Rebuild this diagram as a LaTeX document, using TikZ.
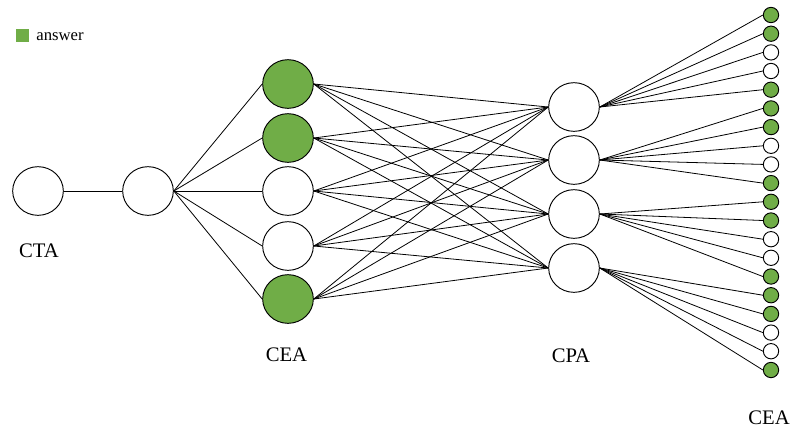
\documentclass[tikz,border=0pt]{standalone}
\usepackage{fontspec}
\setmainfont{Liberation Serif}
\usepackage{xcolor}
\usepackage{tikz}
\usetikzlibrary{shapes}
\definecolor{ansgreen}{RGB}{112,173,71}
\tikzset{ell/.style={ellipse,draw,line width=0.7pt,minimum width=38pt,minimum height=36.5pt,inner sep=0pt}}
\tikzset{dot/.style={circle,draw,line width=0.7pt,minimum size=11.5pt,inner sep=0pt}}
\tikzset{ans/.style={fill=ansgreen}}
\tikzset{lab/.style={inner sep=0pt,font=\fontsize{15.5}{18}\selectfont}}

\begin{document}
\begin{tikzpicture}[x=0.75pt,y=-0.75pt,line width=0.6pt]
    \useasboundingbox (0,0) rectangle (793,430);

    % legend
    \node[fill=ansgreen,minimum size=9.75pt,inner sep=0pt] (key) at (22.5,35.5) {};
    \node[anchor=west,inner sep=0pt,font=\fontsize{12.5}{14}\selectfont] (keytext) at (36,37) {answer};

    \node[ell] (cta) at (38,191) {};
    \node[ell] (hub) at (148,191) {};

    \node[ell,ans] (cea1) at (288,84) {};
    \node[ell,ans] (cea2) at (288,138) {};
    \node[ell] (cea3) at (288,191) {};
    \node[ell] (cea4) at (288,246) {};
    \node[ell,ans] (cea5) at (288,299) {};

    \node[ell] (cpa1) at (574,107) {};
    \node[ell] (cpa2) at (574,160) {};
    \node[ell] (cpa3) at (574,214) {};
    \node[ell] (cpa4) at (574,268) {};

    \node[dot,ans] (e1) at (771,15) {};
    \node[dot,ans] (e2) at (771,33.7) {};
    \node[dot] (e3) at (771,52.4) {};
    \node[dot] (e4) at (771,71) {};
    \node[dot,ans] (e5) at (771,89.7) {};
    \node[dot,ans] (e6) at (771,108.4) {};
    \node[dot,ans] (e7) at (771,127.1) {};
    \node[dot] (e8) at (771,145.8) {};
    \node[dot] (e9) at (771,164.4) {};
    \node[dot,ans] (e10) at (771,183.1) {};
    \node[dot,ans] (e11) at (771,201.8) {};
    \node[dot,ans] (e12) at (771,220.5) {};
    \node[dot] (e13) at (771,239.2) {};
    \node[dot] (e14) at (771,257.8) {};
    \node[dot,ans] (e15) at (771,276.5) {};
    \node[dot,ans] (e16) at (771,295.2) {};
    \node[dot,ans] (e17) at (771,313.9) {};
    \node[dot] (e18) at (771,332.6) {};
    \node[dot] (e19) at (771,351.2) {};
    \node[dot,ans] (e20) at (771,370) {};

    \node[lab] (ctalab) at (39,251) {CTA};
    \node[lab] (cealab) at (286.5,355) {CEA};
    \node[lab] (cpalab) at (571,356) {CPA};
    \node[lab] (eclab) at (769,418) {CEA};

    \draw (cta.east) to (hub.west);
    \foreach \i in {1,...,5}
        \draw (hub.east) to (cea\i.west);
    \foreach \i in {1,...,5}
        \foreach \j in {1,...,4}
            \draw (cea\i.east) to (cpa\j.west);
    \foreach \j in {1,...,4}
        \foreach \k in {1,...,5}
            \pgfmathtruncatemacro{\n}{5*(\j-1)+\k}
            \draw (cpa\j.east) to (e\n.west);
\end{tikzpicture}
\end{document}
